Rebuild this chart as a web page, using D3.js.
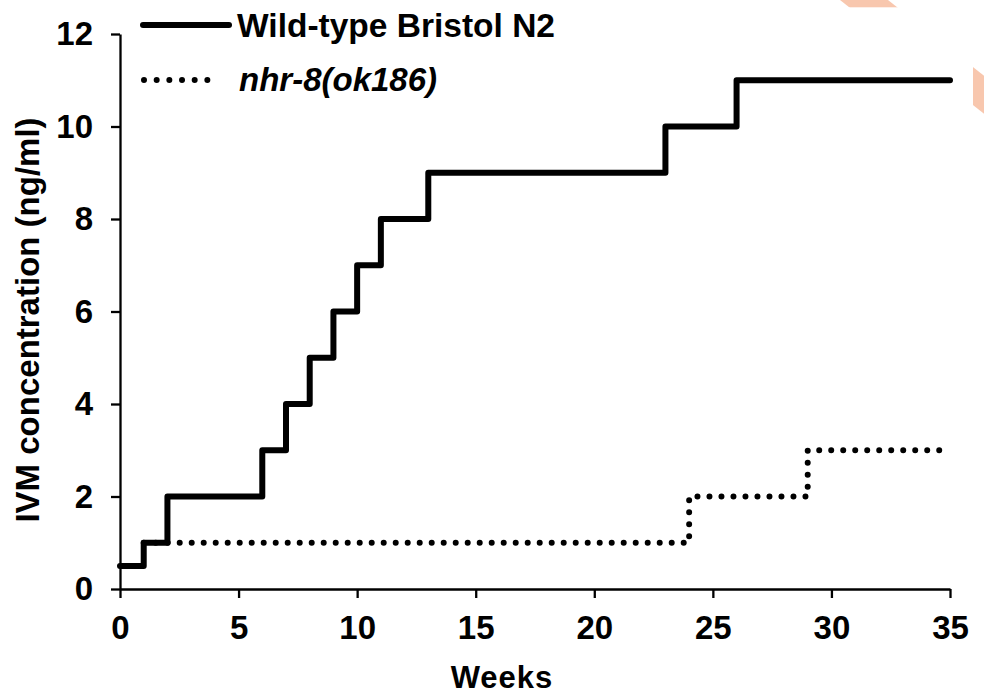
<!DOCTYPE html>
<html>
<head>
<meta charset="utf-8">
<script src="https://cdn.jsdelivr.net/npm/d3@7"></script>
<style>
  body { margin: 0; background: #fff; }
  svg { display: block; font-family: "Liberation Sans", Arial, sans-serif; font-weight: bold; }
</style>
</head>
<body>
<svg id="chart" width="984" height="694"></svg>
<script>
//data (weeks -> IVM concentration, step after)
const wildWeeks = [0, 1, 2, 6, 7, 8, 9, 10, 11, 13, 23, 26, 35];
const wildConc = [0.5, 1, 2, 3, 4, 5, 6, 7, 8, 9, 10, 11, 11];
const nhrWeeks = [1, 24, 29, 35];
const nhrConc = [1, 2, 3, 3];
const xTicks = [0, 5, 10, 15, 20, 25, 30, 35];
const yTicks = [0, 2, 4, 6, 8, 10, 12];
const seriesNames = ["Wild-type Bristol N2", "nhr-8(ok186)"];

document.addEventListener("DOMContentLoaded", () => {
  const width = 984;
  const height = 694;

  const svg = d3.select("#chart");

  //the pale orange ribbon peeking out behind the figure (top right)
  svg.append("path")
    .attr("d", "M840,0 L888,0 L1188,237 L1140,237 Z")
    .attr("fill", "#f8c7ae");
  svg.append("rect")
    .attr("x", 0).attr("y", 7.3)
    .attr("width", 973).attr("height", height)
    .attr("fill", "#fff");

  //scales
  const x = d3.scaleLinear().domain([0, 35]).range([120, 950]);
  const y = d3.scaleLinear().domain([0, 12]).range([589, 34]);

  //axes
  const yAxis = svg.append("g")
    .attr("transform", `translate(${x(0)},0)`)
    .call(d3.axisLeft(y).tickValues(yTicks).tickSize(9).tickSizeOuter(0).tickPadding(18));

  const xAxis = svg.append("g")
    .attr("transform", `translate(0,${y(0)})`)
    .call(d3.axisBottom(x).tickValues(xTicks).tickSize(9).tickSizeOuter(0).tickPadding(18));

  [xAxis, yAxis].forEach(function (g) {
    g.selectAll("path, line").attr("stroke", "#000").attr("stroke-width", 2.3);
    g.selectAll("text")
      .attr("fill", "#000")
      .style("font-size", "33px")
      .style("font-weight", "bold");
  });

  //step lines
  const line = function (xs, ys) {
    return d3.line()
      .x(function (d, i) { return x(xs[i]); })
      .y(function (d) { return y(d); })
      .curve(d3.curveStepAfter)(ys);
  };

  svg.append("path")
    .attr("d", line(wildWeeks, wildConc))
    .attr("fill", "none")
    .attr("stroke", "#000")
    .attr("stroke-width", 6)
    .attr("stroke-linejoin", "round")
    .attr("stroke-linecap", "round");

  svg.append("path")
    .attr("d", line(nhrWeeks, nhrConc))
    .attr("fill", "none")
    .attr("stroke", "#000")
    .attr("stroke-width", 6)
    .attr("stroke-dasharray", "0 12")
    .attr("stroke-linecap", "round");

  //axis titles
  svg.append("text")
    .attr("transform", "translate(39,320) rotate(-90)")
    .attr("text-anchor", "middle")
    .style("font-size", "33px")
    .text("IVM concentration (ng/ml)");

  svg.append("text")
    .attr("x", 502).attr("y", 688)
    .attr("text-anchor", "middle")
    .style("font-size", "31px")
    .style("letter-spacing", "1px")
    .text("Weeks");

  //legend
  const legend = svg.append("g");
  legend.append("line")
    .attr("x1", 143).attr("x2", 229).attr("y1", 25).attr("y2", 25)
    .attr("stroke", "#000").attr("stroke-width", 6).attr("stroke-linecap", "round");
  legend.append("text")
    .attr("x", 237).attr("y", 37)
    .style("font-size", "33.5px")
    .text(seriesNames[0]);

  legend.append("line")
    .attr("x1", 144).attr("x2", 220).attr("y1", 80).attr("y2", 80)
    .attr("stroke", "#000").attr("stroke-width", 6)
    .attr("stroke-dasharray", "0 12.67").attr("stroke-linecap", "round");
  legend.append("text")
    .attr("x", 239).attr("y", 91)
    .style("font-size", "33px")
    .style("font-style", "italic")
    .text(seriesNames[1]);
});
</script>
</body>
</html>
